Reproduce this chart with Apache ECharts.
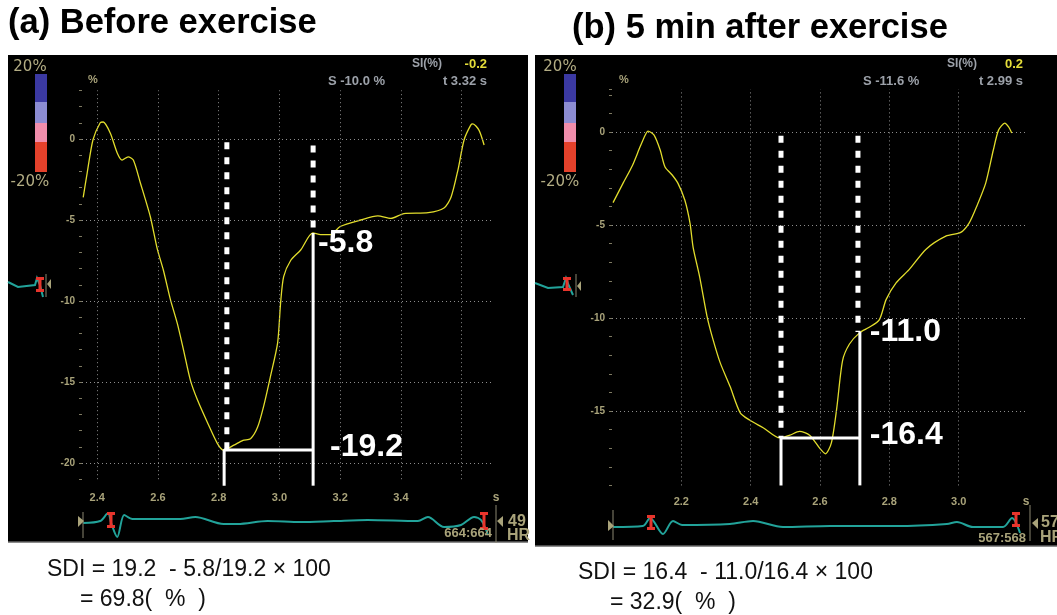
<!DOCTYPE html>
<html><head><meta charset="utf-8">
<script src="https://cdn.jsdelivr.net/npm/echarts@6/dist/echarts.min.js"></script>
<style>html,body{margin:0;padding:0;background:#fff}#c{width:1057px;height:615px}</style>
</head><body><div id="c"></div>
<script>
// ---------------- data ----------------
// (a) Before exercise : strain curve (time s, strain %)
const timeA   = [2.354,2.367,2.386,2.41,2.42,2.443,2.466,2.482,2.502,2.519,2.542,2.575,2.598,2.618,2.641,2.664,2.684,2.707,2.73,2.763,2.796,2.816,2.85,2.88,2.905,2.928,2.948,2.97,2.994,3.004,3.014,3.037,3.07,3.11,3.136,3.169,3.2,3.268,3.324,3.367,3.41,3.49,3.542,3.565,3.588,3.608,3.63,3.637,3.657,3.674];
const strainA = [-3.6,-2.1,-0.06,1.0,1.05,0.37,-0.86,-1.3,-1.1,-1.3,-2.7,-4.8,-6.8,-8.1,-9.9,-11.4,-13.0,-14.9,-16.1,-17.5,-18.8,-19.2,-18.9,-18.6,-18.5,-17.8,-16.5,-14.7,-12.6,-10.1,-8.5,-7.5,-6.85,-5.8,-5.9,-5.9,-5.4,-5.0,-4.75,-4.9,-4.6,-4.55,-4.26,-3.6,-1.9,-0.06,0.86,0.93,0.55,-0.37];
// (a) ECG trace
const ecgTimeA = [2.354,2.41,2.436,2.446,2.466,2.489,2.516,2.674,2.723,2.816,2.862,2.961,3.07,3.179,3.291,3.456,3.489,3.542,3.598,3.641,3.664,3.687];
const ecgValA  = [-2,0,8,-2,-16,6,2,2,4,-3,-3,0,-1,0,1,0,4,-6,-4,4,1,-14];
// (a) measurement marks
const markTimesA  = [2.818, 3.111];   // time of peak strain, time of 1/3 diastole
const dashTimesA  = [2.827, 3.111];
const dashTopA    = [-0.2, -0.4];
const markValuesA = [-19.2, -5.8];
const markLabelsA = ['-19.2', '-5.8'];
const floorA = -21.4;

// (b) 5 min after exercise
const timeB   = [2.003,2.032,2.059,2.081,2.096,2.104,2.121,2.139,2.153,2.173,2.19,2.21,2.225,2.234,2.253,2.274,2.289,2.312,2.341,2.37,2.398,2.436,2.484,2.513,2.541,2.57,2.599,2.616,2.633,2.648,2.665,2.685,2.714,2.742,2.771,2.791,2.82,2.857,2.906,2.963,3.006,3.03,3.052,3.078,3.1,3.115,3.133,3.144,3.153];
const strainB = [-3.8,-2.75,-1.8,-0.8,-0.16,0.05,-0.16,-0.97,-1.88,-2.3,-2.75,-3.66,-4.9,-6.2,-7.8,-9.9,-11.0,-12.4,-13.7,-15.1,-15.5,-15.9,-16.45,-16.3,-16.1,-16.3,-17.0,-17.3,-16.7,-14.9,-12.3,-11.4,-10.8,-10.5,-10.1,-9.0,-8.1,-7.4,-6.3,-5.6,-5.4,-4.9,-4.0,-2.75,-0.97,0.1,0.48,0.27,-0.05];
const ecgTimeB = [2.003,2.089,2.11,2.147,2.176,2.202,2.34,2.407,2.493,2.629,2.822,2.966,2.995,3.041,3.128,3.154,3.177];
const ecgValB  = [-1,0,8,-8,5,1,2,5,-1,0,0,2,4,-1,-1,8,-7];
const markTimesB  = [2.4875, 2.715];
const dashTimesB  = [2.4875, 2.7095];
const dashTopB    = [-0.2, -0.2];
const markValuesB = [-16.45, -10.75];
const markLabelsB = ['-16.4', '-11.0'];
const floorB = -19.0;

// axes tick labels
const xLabelsA = ['2.4','2.6','2.8','3.0','3.2','3.4'];
const yLabelsA = ['0','-5','-10','-15','-20'];
const vGridA = [2.4,2.6,2.8,3.0,3.2,3.4,3.6];
const hGridA = [0,-5,-10,-15,-20];
const xLabelsB = ['2.2','2.4','2.6','2.8','3.0'];
const yLabelsB = ['0','-5','-10','-15'];
const vGridB = [2.2,2.4,2.6,2.8,3.0];
const hGridB = [0,-5,-10,-15];

// ---------------- styling ----------------
const KH = '#a9a37a';
const GRAY = '#9ca1a9';
const FONT = '"Liberation Sans", Arial, sans-serif';
const zip = (a, b) => a.map((v, i) => [v, b[i]]);

function xFmt(labels) {
  return v => {
    const r = Math.round(v * 10);
    if (Math.abs(v * 10 - r) > 1e-6) return '';
    const s = (r / 10).toFixed(1);
    return labels.includes(s) ? s : '';
  };
}
function yFmt(labels) {
  return v => {
    const r = Math.round(v);
    if (Math.abs(v - r) > 1e-6) return '';
    const s = String(r);
    return labels.includes(s) ? s : '';
  };
}
function xAxisMain(gi, min, max, interval, labels, margin) {
  return {type:'value', gridIndex:gi, min, max, interval,
    axisLine:{show:false}, axisTick:{show:false}, splitLine:{show:false},
    axisLabel:{formatter:xFmt(labels), color:KH, fontWeight:'bold', fontSize:11, fontFamily:FONT, margin}};
}
function yAxisMain(gi, min, max, labels) {
  return {type:'value', gridIndex:gi, min, max, interval:1,
    axisLine:{show:false}, axisTick:{show:true, length:3, lineStyle:{color:'#7e7a62', width:1}},
    splitLine:{show:false},
    axisLabel:{formatter:yFmt(labels), color:KH, fontWeight:'bold', fontSize:10, fontFamily:FONT, margin:7}};
}
function hidden(gi, min, max) {
  return {type:'value', gridIndex:gi, min, max, show:false, splitLine:{show:false}};
}
function gridMarks(h, v) {
  return {silent:true, symbol:['none','none'], label:{show:false},
    lineStyle:{color:'#8d8d8d', type:[1,3], width:1},
    data:[...h.map(y => ({yAxis:y})), ...v.map(x => ({xAxis:x}))]};
}
function seg(xi, data, style, z) {
  return {type:'line', xAxisIndex:xi, yAxisIndex:xi, data, showSymbol:false, symbol:'none',
    clip:false, silent:true, lineStyle:style, z:z || 5, animation:false};
}
const DASH = {color:'#ffffff', width:5, type:[7,8], cap:'butt'};
const SOLID = {color:'#ffffff', width:3};

function annot(xi, mt, dt, dtop, mv, floor, labels, labelOpts) {
  const out = [];
  out.push(seg(xi, [[dt[0], dtop[0]], [dt[0], mv[0]]], DASH, 6));
  out.push(seg(xi, [[dt[1], dtop[1]], [dt[1], mv[1]]], DASH, 6));
  out.push(seg(xi, [[mt[0], floor], [mt[0], mv[0]], [mt[1], mv[0]]], SOLID, 6));
  out.push(seg(xi, [[mt[1], mv[1]], [mt[1], floor]], SOLID, 6));
  out.push({type:'scatter', xAxisIndex:xi, yAxisIndex:xi, symbolSize:0, silent:true, z:7, clip:false, animation:false,
    itemStyle:{opacity:1},
    data: mt.map((t, i) => ({value:[mt[1], mv[i]], label:Object.assign({show:true, position:'right', formatter:labels[i],
      color:'#ffffff', opacity:1, textBorderWidth:0, fontWeight:'bold', fontSize:32, fontFamily:FONT}, labelOpts[i])}))});
  return out;
}

function pin(cx, top, h) {
  return [
    {type:'rect', shape:{x:cx-4, y:top, width:8, height:3}, style:{fill:'#e8352c'}, z:20},
    {type:'rect', shape:{x:cx-1.5, y:top, width:3, height:h}, style:{fill:'#e8352c'}, z:20},
    {type:'rect', shape:{x:cx-4, y:top+h-3, width:8, height:3}, style:{fill:'#e8352c'}, z:20}
  ];
}
function txt(x, y, text, font, fill, align, z) {
  return {type:'text', x, y, z:z || 30, style:{text, font, fill, align:align || 'left', verticalAlign:'middle'}};
}
function colorBar(x, tx) {
  const segs = [[74,102,'#3b39a2'],[102,123,'#8c8cd2'],[123,142,'#f08dab'],[142,172,'#e4412b']];
  const els = segs.map(s => ({type:'rect', shape:{x, y:s[0], width:12, height:s[1]-s[0]}, style:{fill:s[2]}, z:10}));
  els.push(txt(tx, 67, '20%', '15px "DejaVu Sans", sans-serif', '#b3ad84', 'center'));
  els.push(txt(tx, 182, '-20%', '15px "DejaVu Sans", sans-serif', '#b3ad84', 'center'));
  return els;
}

const graphics = [
  {type:'rect', shape:{x:8, y:55, width:520, height:487}, style:{fill:'#000'}, z:-10},
  {type:'line', shape:{x1:8, y1:542, x2:528, y2:542}, style:{stroke:'#666', lineWidth:1.5}, z:-9},
  {type:'rect', shape:{x:535, y:55, width:522, height:491}, style:{fill:'#000'}, z:-10},
  {type:'line', shape:{x1:535, y1:546, x2:1057, y2:546}, style:{stroke:'#666', lineWidth:1.5}, z:-9},
  txt(8, 23, '(a) Before exercise', 'bold 34.5px ' + FONT, '#000'),
  txt(572, 28, '(b) 5 min after exercise', 'bold 34.5px ' + FONT, '#000'),
  ...colorBar(35, 30), ...colorBar(564, 560),
  txt(88, 80, '%', 'bold 11px ' + FONT, KH),
  txt(619, 80, '%', 'bold 11px ' + FONT, KH),
  txt(412, 64, 'SI(%)', 'bold 12px ' + FONT, GRAY),
  txt(487, 64, '-0.2', 'bold 13px ' + FONT, '#e4dd3a', 'right'),
  txt(328, 81, 'S -10.0 %', 'bold 13px ' + FONT, GRAY),
  txt(487, 81, 't 3.32 s', 'bold 13px ' + FONT, GRAY, 'right'),
  txt(947, 64, 'SI(%)', 'bold 12px ' + FONT, GRAY),
  txt(1023, 64, '0.2', 'bold 13px ' + FONT, '#e4dd3a', 'right'),
  txt(863, 81, 'S -11.6 %', 'bold 13px ' + FONT, GRAY),
  txt(1023, 81, 't 2.99 s', 'bold 13px ' + FONT, GRAY, 'right'),
  txt(496, 498, 's', 'bold 12px ' + FONT, KH, 'center'),
  txt(1026, 502, 's', 'bold 12px ' + FONT, KH, 'center'),
  {type:'polyline', shape:{points:[[8,282],[18,287],[35,285],[37,278],[40,285],[43,297]]}, style:{stroke:'#22a39a', lineWidth:2, fill:null}, z:15},
  {type:'polyline', shape:{points:[[535,283],[548,288],[563,287],[566,278],[569,286],[573,295]]}, style:{stroke:'#22a39a', lineWidth:2, fill:null}, z:15},
  ...pin(40, 277, 15), ...pin(567, 277, 14),
  {type:'line', shape:{x1:46, y1:274, x2:46, y2:297}, style:{stroke:'#8a8670', lineWidth:1}, z:15},
  {type:'polygon', shape:{points:[[51,279],[51,289],[47,284]]}, style:{fill:KH}, z:15},
  {type:'line', shape:{x1:576, y1:274, x2:576, y2:297}, style:{stroke:'#8a8670', lineWidth:1}, z:15},
  {type:'polygon', shape:{points:[[581,281],[581,291],[577,286]]}, style:{fill:KH}, z:15},
  {type:'line', shape:{x1:83, y1:512, x2:83, y2:538}, style:{stroke:'#8a8670', lineWidth:1}, z:15},
  {type:'polygon', shape:{points:[[78,516],[78,527],[84,521]]}, style:{fill:KH}, z:15},
  {type:'line', shape:{x1:496, y1:505, x2:496, y2:543}, style:{stroke:'#8a8670', lineWidth:1}, z:15},
  {type:'polygon', shape:{points:[[503,516],[503,527],[497,521]]}, style:{fill:KH}, z:15},
  ...pin(111, 512, 16), ...pin(484, 512, 18),
  txt(508, 522, '49', 'bold 16px ' + FONT, KH),
  txt(507, 536, 'HR', 'bold 16px ' + FONT, KH),
  txt(492, 533, '664:664', 'bold 13px ' + FONT, KH, 'right'),
  {type:'line', shape:{x1:613, y1:510, x2:613, y2:540}, style:{stroke:'#8a8670', lineWidth:1}, z:15},
  {type:'polygon', shape:{points:[[608,520],[608,531],[614,526]]}, style:{fill:KH}, z:15},
  {type:'line', shape:{x1:1030, y1:505, x2:1030, y2:541}, style:{stroke:'#8a8670', lineWidth:1}, z:15},
  {type:'polygon', shape:{points:[[1038,518],[1038,529],[1032,523]]}, style:{fill:KH}, z:15},
  ...pin(651, 515, 15), ...pin(1016, 512, 15),
  txt(1041, 523, '57', 'bold 16px ' + FONT, KH),
  txt(1040, 538, 'HR', 'bold 16px ' + FONT, KH),
  txt(1026, 538, '567:568', 'bold 13px ' + FONT, KH, 'right'),
  txt(47, 570, 'SDI = 19.2  - 5.8/19.2 × 100', '23px ' + FONT, '#111'),
  txt(80, 600, '= 69.8(  %  )', '23px ' + FONT, '#111'),
  txt(578, 573, 'SDI = 16.4  - 11.0/16.4 × 100', '23px ' + FONT, '#111'),
  txt(610, 603, '= 32.9(  %  )', '23px ' + FONT, '#111')
];

const option = {
  animation:false,
  backgroundColor:'#ffffff',
  grid:[
    {left:82, top:90.4, width:410, height:388.8},
    {left:82, top:501, width:410, height:40},
    {left:612, top:89.2, width:416, height:396.2},
    {left:612, top:506, width:416, height:40}
  ],
  xAxis:[
    xAxisMain(0, 2.35, 3.7, 0.05, xLabelsA, 13),
    hidden(1, 2.35, 3.7),
    xAxisMain(2, 2.0, 3.2, 0.1, xLabelsB, 11),
    hidden(3, 2.0, 3.2)
  ],
  yAxis:[
    yAxisMain(0, -21, 3, yLabelsA),
    hidden(1, -20, 20),
    yAxisMain(2, -19, 2.3, yLabelsB),
    hidden(3, -20, 20)
  ],
  graphic:{elements:graphics},
  series:[
    {type:'line', xAxisIndex:0, yAxisIndex:0, data:zip(timeA, strainA), showSymbol:false, symbol:'none', smooth:0.25,
      lineStyle:{color:'#e2dd2c', width:1.3}, z:4, markLine:gridMarks(hGridA, vGridA)},
    {type:'line', xAxisIndex:1, yAxisIndex:1, data:zip(ecgTimeA, ecgValA), showSymbol:false, symbol:'none', smooth:0.3,
      lineStyle:{color:'#22a39a', width:2}, z:4},
    {type:'line', xAxisIndex:2, yAxisIndex:2, data:zip(timeB, strainB), showSymbol:false, symbol:'none', smooth:0.25,
      lineStyle:{color:'#e2dd2c', width:1.3}, z:4, markLine:gridMarks(hGridB, vGridB)},
    {type:'line', xAxisIndex:3, yAxisIndex:3, data:zip(ecgTimeB, ecgValB), showSymbol:false, symbol:'none', smooth:0.3,
      lineStyle:{color:'#22a39a', width:2}, z:4},
    ...annot(0, markTimesA, dashTimesA, dashTopA, markValuesA, floorA, markLabelsA,
      [{distance:17, offset:[0,-3]}, {distance:5, offset:[0,10]}]),
    ...annot(2, markTimesB, dashTimesB, dashTopB, markValuesB, floorB, markLabelsB,
      [{distance:10, offset:[0,-3]}, {distance:10, offset:[0,0]}])
  ]
};
const chart = echarts.init(document.getElementById('c'));
chart.setOption(option);
</script>
</body></html>
